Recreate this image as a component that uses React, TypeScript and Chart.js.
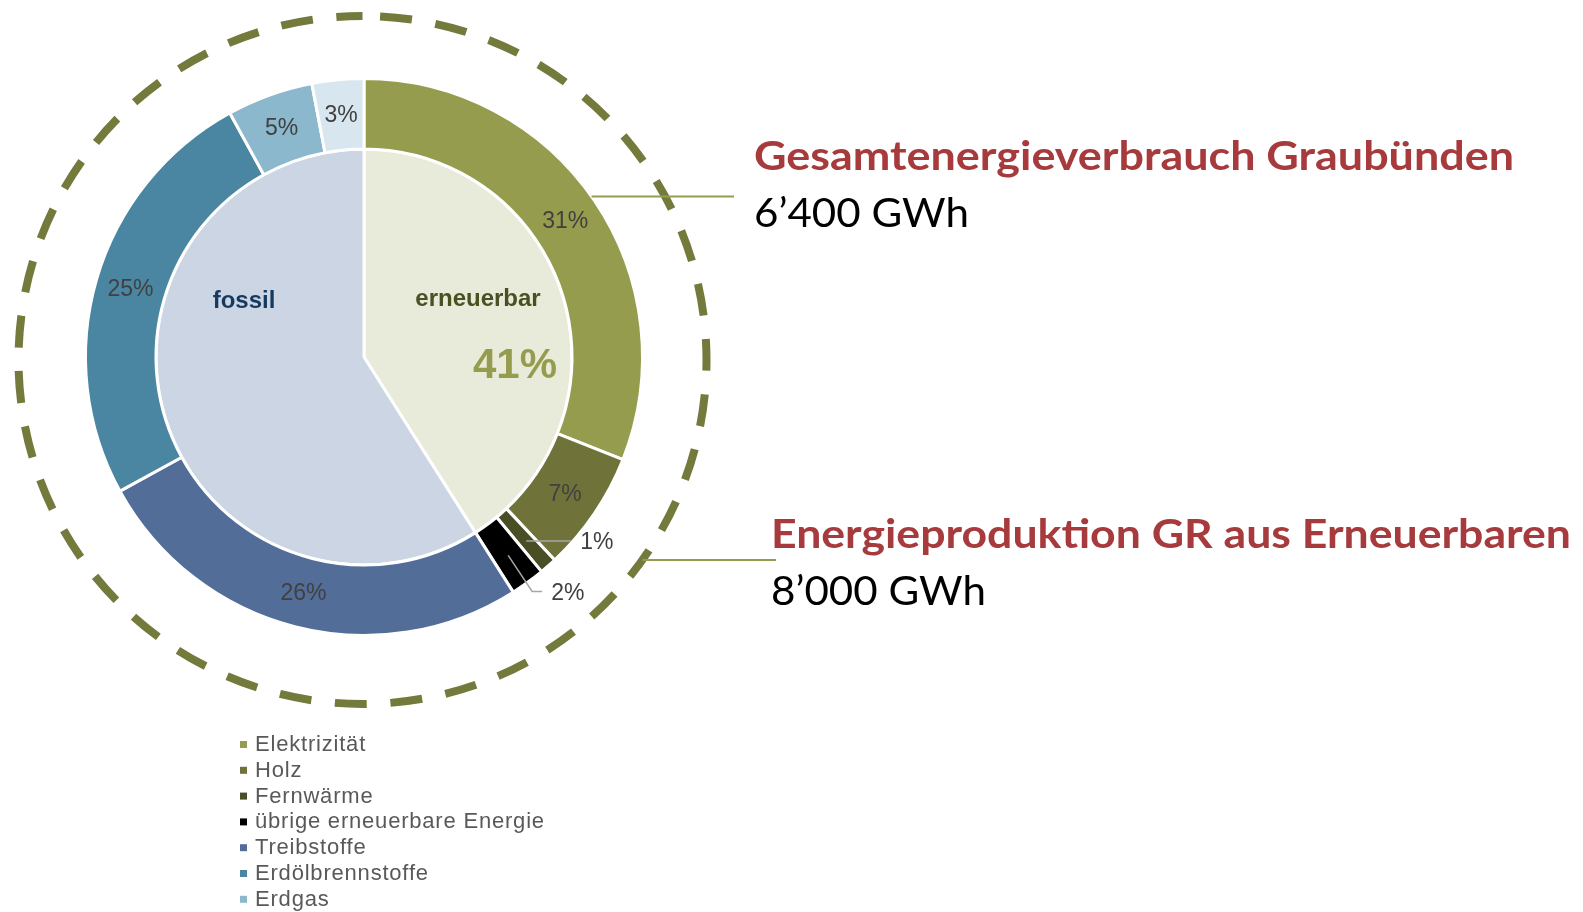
import React, { useEffect, useRef } from "react";
import { Chart, registerables } from "chart.js";

Chart.register(...registerables);

const W = 1583;
const H = 912;

// Outer ring: Gesamtenergieverbrauch by carrier (percent)
const ringLabels = [
  "Elektrizität",
  "Holz",
  "Fernwärme",
  "übrige erneuerbare Energie",
  "Treibstoffe",
  "Erdölbrennstoffe",
  "Erdgas",
  "übrige fossile Energie",
];
const ringValues = [31, 7, 1, 2, 26, 25, 5, 3];
const ringColors = ["#969c4d", "#6f733a", "#4a4e25", "#000000", "#536d99", "#4a86a1", "#8bb8cc", "#d8e7ef"];
// which ring labels are drawn outside with a leader line
const calloutIdx = [2, 3];

// Inner pie: renewable vs fossil
const coreLabels = ["erneuerbar", "fossil"];
const coreValues = [41, 59];
const coreColors = ["#e9ebda", "#cbd5e3"];
const coreTextColors = ["#4b5022", "#163a5f"];

// Side annotations
const headings = ["Gesamtenergieverbrauch Graubünden", "Energieproduktion GR aus Erneuerbaren"];
const totals = ["6’400 GWh", "8’000 GWh"];

function fitText(ctx: CanvasRenderingContext2D, text: string, x: number, y: number, width: number) {
  const w = ctx.measureText(text).width;
  ctx.save();
  ctx.translate(x, y);
  ctx.scale(width / w, 1);
  ctx.fillText(text, 0, 0);
  ctx.restore();
}

const overlay = {
  id: "overlay",
  afterDatasetsDraw(chart: any) {
    const ctx: CanvasRenderingContext2D = chart.ctx;
    const ring = chart.getDatasetMeta(0).data;
    const core = chart.getDatasetMeta(1).data;
    const a0 = ring[0].getProps(["x", "y", "innerRadius", "outerRadius"], true);
    const cx = a0.x;
    const cy = a0.y;
    const rOut = a0.outerRadius;
    const rIn = a0.innerRadius;
    const rMid = (rOut + rIn) / 2;

    ctx.save();
    // dashed circle
    const dcx = cx - 1.5;
    const dcy = cy + 3;
    const dr = 344;
    ctx.strokeStyle = "#737a3b";
    ctx.lineWidth = 8;
    ctx.setLineDash([32, 23.7]);
    ctx.lineDashOffset = 38;
    ctx.beginPath();
    ctx.arc(dcx, dcy, dr, -Math.PI / 2, 1.5 * Math.PI);
    ctx.stroke();
    ctx.setLineDash([]);

    // ring percentage labels
    ctx.font = "23px 'Liberation Sans', Arial, sans-serif";
    ctx.fillStyle = "#404040";
    ctx.textAlign = "center";
    ctx.textBaseline = "middle";
    ring.forEach((el: any, i: number) => {
      const p = el.getProps(["startAngle", "endAngle"], true);
      const a = (p.startAngle + p.endAngle) / 2;
      const txt = ringValues[i] + "%";
      if (calloutIdx.includes(i)) return;
      ctx.fillText(txt, cx + rMid * Math.cos(a), cy + rMid * Math.sin(a) + 1);
    });

    // callouts for small slices
    ctx.strokeStyle = "#a6a6a6";
    ctx.lineWidth = 1.5;
    ctx.textAlign = "left";
    calloutIdx.forEach((i, k) => {
      const p = ring[i].getProps(["startAngle", "endAngle"], true);
      const a = (p.startAngle + p.endAngle) / 2;
      const sx = cx + (rMid + 2) * Math.cos(a);
      const sy = cy + (rMid + 2) * Math.sin(a);
      ctx.beginPath();
      ctx.moveTo(sx, sy);
      let ex: number, ey: number;
      if (k === 0) {
        ex = sx + 45;
        ey = sy;
        ctx.lineTo(ex, ey);
      } else {
        const bx = sx + 24;
        const by = sy + 36;
        ctx.lineTo(bx, by);
        ex = bx + 10;
        ey = by;
        ctx.lineTo(ex, ey);
      }
      ctx.stroke();
      ctx.fillText(ringValues[i] + "%", ex + 9, ey + 2);
    });

    // inner labels
    const coreOffsets = [
      { x: 114, y: -58 },
      { x: -120, y: -56 },
    ];
    ctx.textAlign = "center";
    ctx.font = "bold 24px 'Liberation Sans', Arial, sans-serif";
    core.forEach((_el: any, i: number) => {
      ctx.fillStyle = coreTextColors[i];
      ctx.fillText(coreLabels[i], cx + coreOffsets[i].x, cy + coreOffsets[i].y);
    });
    ctx.font = "bold 42px 'Liberation Sans', Arial, sans-serif";
    ctx.fillStyle = ringColors[0];
    ctx.fillText(coreValues[0] + "%", cx + 151, cy + 9);

    // connector lines to headings
    ctx.strokeStyle = "#969c4d";
    ctx.lineWidth = 2;
    const y1 = 196.5;
    const x1 = cx + Math.sqrt(rOut * rOut - (y1 - cy) * (y1 - cy));
    ctx.beginPath();
    ctx.moveTo(x1, y1);
    ctx.lineTo(734, y1);
    ctx.stroke();
    const y2 = 560;
    const x2 = dcx + Math.sqrt(dr * dr - (y2 - dcy) * (y2 - dcy));
    ctx.beginPath();
    ctx.moveTo(x2, y2);
    ctx.lineTo(776, y2);
    ctx.stroke();

    // headings
    ctx.textAlign = "left";
    ctx.textBaseline = "alphabetic";
    ctx.fillStyle = "#a63a3c";
    ctx.font = "bold 41px Lato, 'Open Sans', sans-serif";
    fitText(ctx, headings[0], 754, 170, 760);
    fitText(ctx, headings[1], 771, 548, 800);
    ctx.fillStyle = "#000000";
    ctx.font = "41px Lato, 'Open Sans', sans-serif";
    fitText(ctx, totals[0], 754, 227, 215);
    fitText(ctx, totals[1], 771, 605, 215);

    // legend
    ctx.font = "22px 'Liberation Sans', Arial, sans-serif";
    (ctx as any).letterSpacing = "0.8px";
    ringLabels.forEach((lab, i) => {
      const by = 751 + i * 25.8;
      ctx.fillStyle = ringColors[i];
      ctx.fillRect(240, by - 10, 7, 7);
      ctx.fillStyle = "#595959";
      ctx.fillText(lab, 255, by);
    });
    (ctx as any).letterSpacing = "0px";
    ctx.restore();
  },
};

export default function App() {
  const ref = useRef<HTMLCanvasElement | null>(null);
  useEffect(() => {
    if (!ref.current) return;
    const cx = 364;
    const cy = 357;
    const chart = new Chart(ref.current, {
      type: "doughnut",
      data: {
        labels: ringLabels,
        datasets: [
          {
            data: ringValues,
            backgroundColor: ringColors,
            borderColor: "#ffffff",
            borderWidth: 3,
            weight: 70.5,
          } as any,
          {
            data: coreValues,
            backgroundColor: coreColors,
            borderColor: "#ffffff",
            borderWidth: 3,
            weight: 208,
          } as any,
        ],
      },
      options: {
        responsive: false,
        animation: false,
        events: [],
        cutout: 0,
        radius: 278.5,
        layout: { padding: { left: 0, top: 0, right: W - 2 * cx, bottom: H - 2 * cy } },
        plugins: {
          legend: { display: false },
          tooltip: { enabled: false },
        },
      } as any,
      plugins: [overlay],
    });
    return () => chart.destroy();
  }, []);
  return (
    <div style={{ position: "absolute", left: 0, top: 0, width: W, height: H, background: "#fff", overflow: "hidden" }}>
      <canvas ref={ref} width={W} height={H} style={{ display: "block" }} />
    </div>
  );
}
